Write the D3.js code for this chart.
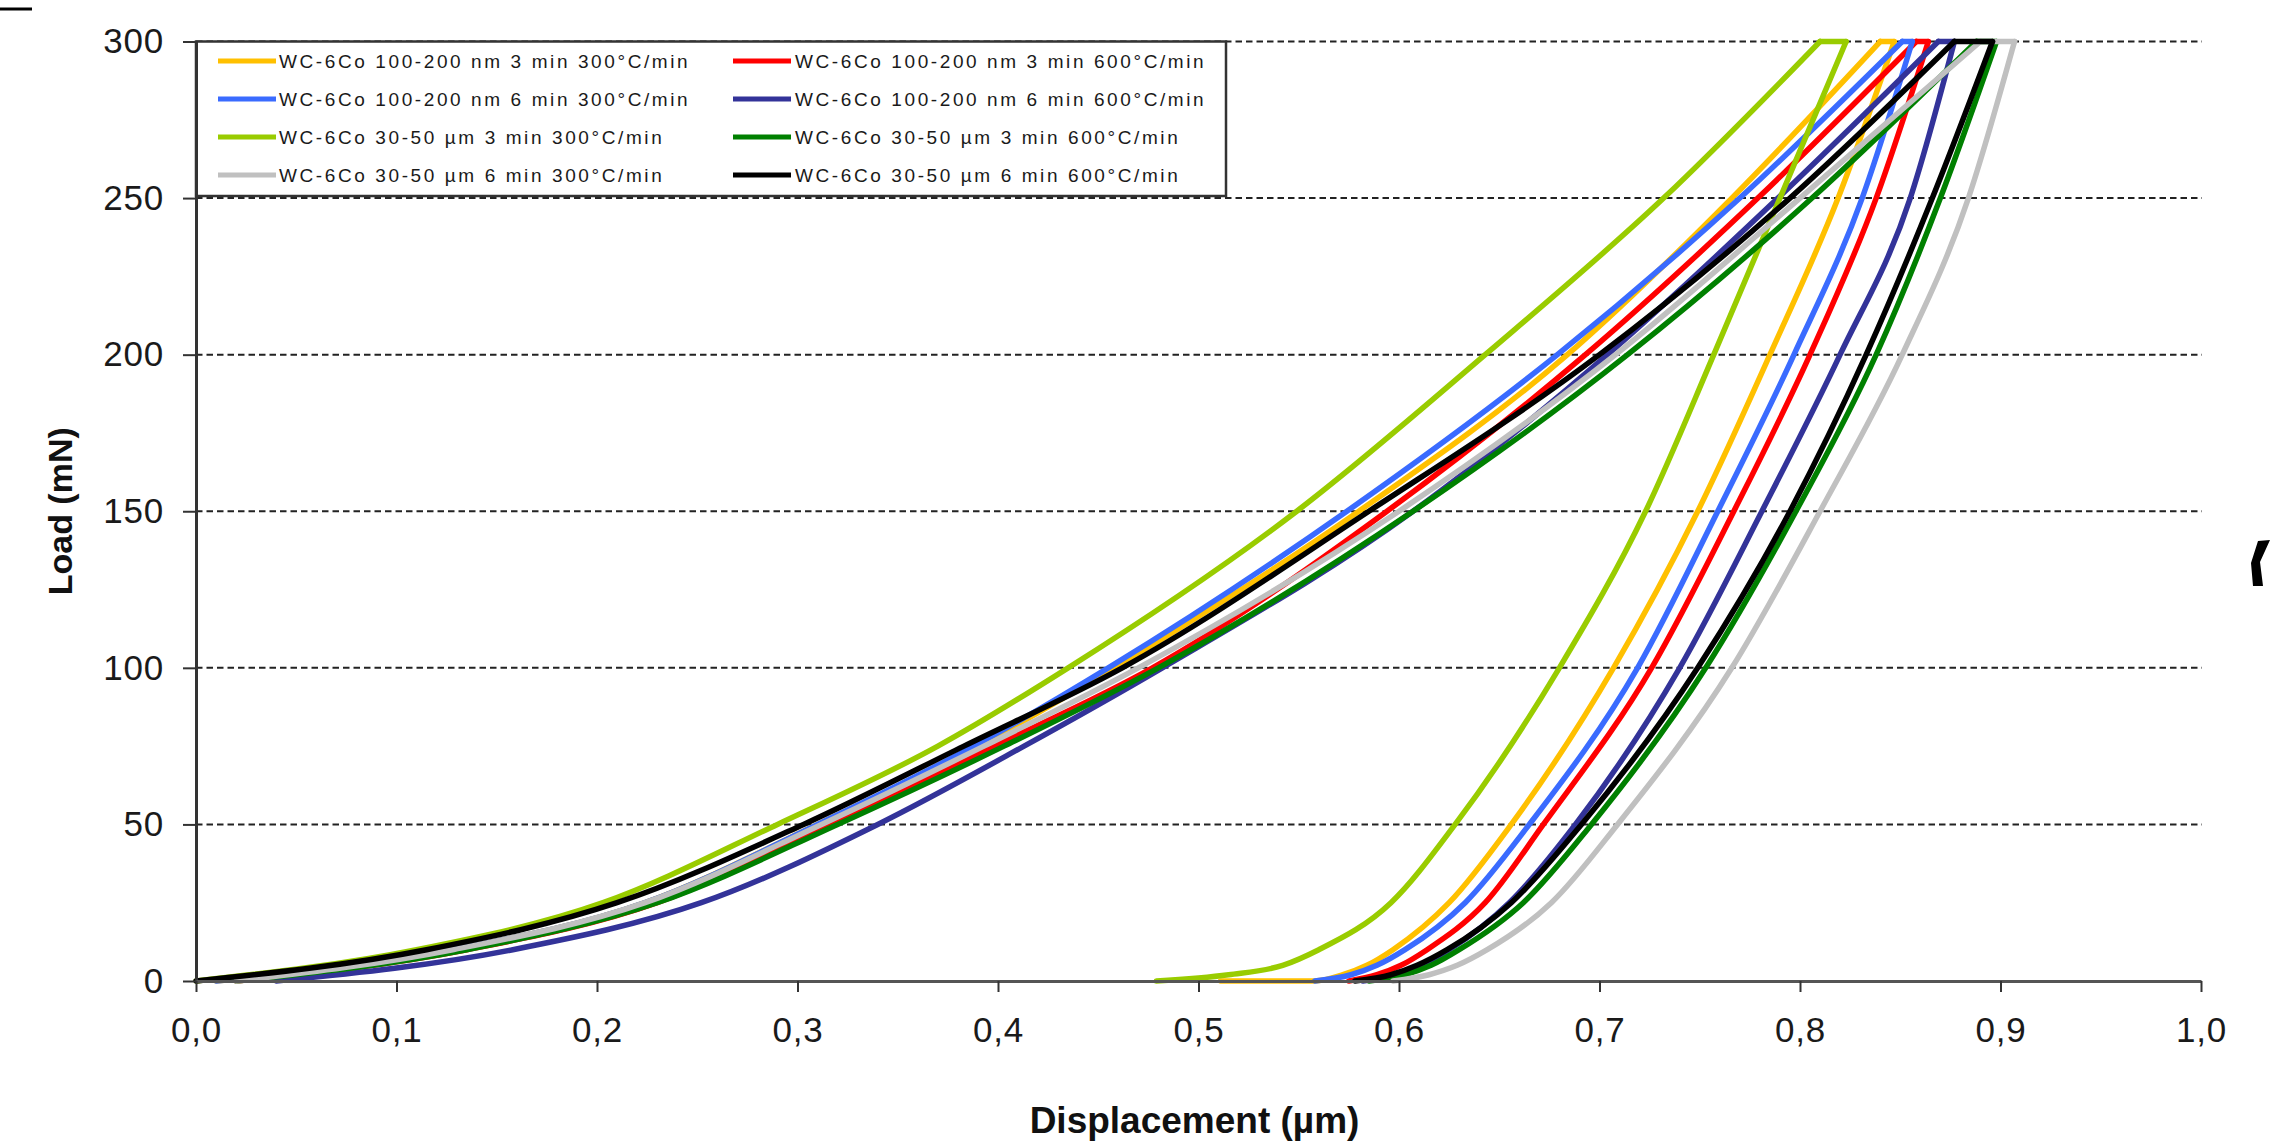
<!DOCTYPE html>
<html><head><meta charset="utf-8">
<script src="https://cdn.jsdelivr.net/npm/d3@7"></script>
<style>
html,body{margin:0;padding:0;background:#fff;}
svg{display:block;}
text{font-family:"Liberation Sans", Arial, sans-serif;}
</style></head><body>
<svg id="chart" width="2282" height="1142"></svg>
<script>
// ---------- data ----------
const seriesNames = [
  "WC-6Co 100-200 nm 3 min 300°C/min",
  "WC-6Co 100-200 nm 3 min 600°C/min",
  "WC-6Co 100-200 nm 6 min 300°C/min",
  "WC-6Co 100-200 nm 6 min 600°C/min",
  "WC-6Co 30-50 µm 3 min 300°C/min",
  "WC-6Co 30-50 µm 3 min 600°C/min",
  "WC-6Co 30-50 µm 6 min 300°C/min",
  "WC-6Co 30-50 µm 6 min 600°C/min"
];
const seriesColors = ["#FFC000","#FF0000","#3A6BFF","#333399","#99CC00","#008000","#C0C0C0","#000000"];

// load levels (mN) at which displacement (µm) is read
const loadLevels   = [0, 10, 25, 50, 75, 100, 150, 200, 250, 300];
const unloadLevels = [300, 250, 200, 150, 100, 50, 25, 10, 5, 2, 0];

// loading branches (displacement at loadLevels)
const yellowLoading = [0.010, 0.128, 0.224, 0.310, 0.390, 0.458, 0.580, 0.684, 0.766, 0.840];
const redLoading    = [0.020, 0.135, 0.230, 0.316, 0.398, 0.477, 0.594, 0.693, 0.779, 0.858];
const blueLoading   = [0.010, 0.128, 0.224, 0.310, 0.388, 0.455, 0.574, 0.679, 0.770, 0.851];
const navyLoading   = [0.040, 0.158, 0.252, 0.340, 0.413, 0.482, 0.607, 0.704, 0.789, 0.869];
const limeLoading   = [0.000, 0.110, 0.203, 0.290, 0.370, 0.435, 0.549, 0.643, 0.732, 0.810];
const greenLoading  = [0.020, 0.135, 0.230, 0.320, 0.403, 0.480, 0.607, 0.714, 0.806, 0.888];
const grayLoading   = [0.020, 0.128, 0.224, 0.312, 0.393, 0.470, 0.600, 0.708, 0.800, 0.890];
const blackLoading  = [0.000, 0.115, 0.210, 0.303, 0.383, 0.462, 0.585, 0.700, 0.795, 0.877];

// unloading branches (displacement at unloadLevels)
const yellowUnloading = [0.847, 0.819, 0.785, 0.749, 0.707, 0.656, 0.625, 0.597, 0.584, 0.572, 0.558];
const redUnloading    = [0.864, 0.838, 0.805, 0.767, 0.726, 0.672, 0.643, 0.614, 0.601, 0.589, 0.575];
const blueUnloading   = [0.856, 0.831, 0.797, 0.759, 0.719, 0.665, 0.633, 0.603, 0.589, 0.576, 0.558];
const navyUnloading   = [0.877, 0.855, 0.820, 0.781, 0.740, 0.688, 0.655, 0.625, 0.611, 0.598, 0.582];
const limeUnloading   = [0.823, 0.790, 0.757, 0.723, 0.680, 0.628, 0.596, 0.560, 0.542, 0.515, 0.479];
const greenUnloading  = [0.898, 0.870, 0.838, 0.798, 0.753, 0.696, 0.662, 0.630, 0.616, 0.603, 0.585];
const grayUnloading   = [0.907, 0.884, 0.851, 0.810, 0.766, 0.709, 0.676, 0.644, 0.629, 0.615, 0.597];
const blackUnloading  = [0.896, 0.866, 0.833, 0.795, 0.749, 0.691, 0.656, 0.624, 0.609, 0.596, 0.578];

// zero-load tail end (displacement), null when none
const residualFlat = [0.511, null, null, null, null, null, null, null];

const xTickValues = [0, 0.1, 0.2, 0.3, 0.4, 0.5, 0.6, 0.7, 0.8, 0.9, 1.0];
const xTickLabels = ["0,0","0,1","0,2","0,3","0,4","0,5","0,6","0,7","0,8","0,9","1,0"];
const yTickValues = [0, 50, 100, 150, 200, 250, 300];
const yTickLabels = ["0","50","100","150","200","250","300"];

const loadings   = [yellowLoading, redLoading, blueLoading, navyLoading, limeLoading, greenLoading, grayLoading, blackLoading];
const unloadings = [yellowUnloading, redUnloading, blueUnloading, navyUnloading, limeUnloading, greenUnloading, grayUnloading, blackUnloading];

// ---------- layout ----------
const svg = d3.select("#chart");
const x = d3.scaleLinear().domain([0, 1]).range([196, 2201]);
const y = d3.scaleLinear().domain([0, 300]).range([981, 41.5]);

// gridlines
svg.append("g").selectAll("line").data(yTickValues.filter(v => v > 0)).join("line")
  .attr("x1", x(0)).attr("x2", x(1) + 1)
  .attr("y1", d => y(d)).attr("y2", d => y(d))
  .attr("stroke", "#222").attr("stroke-width", 2).attr("stroke-dasharray", "6.5 4");

// curves
const lineGen = d3.line().x(p => x(p[0])).y(p => y(p[1])).curve(d3.curveMonotoneX);
const straight = d3.line().x(p => x(p[0])).y(p => y(p[1]));
const curvesG = svg.append("g");
seriesNames.forEach((name, i) => {
  const g = curvesG.append("g");
  const load = loadLevels.map((L, j) => [loadings[i][j], L]);
  const unload = unloadLevels.map((L, j) => [unloadings[i][j], L]);
  if (residualFlat[i] !== null) unload.push([residualFlat[i], 0]);
  const style = sel => sel.attr("fill", "none").attr("stroke", seriesColors[i])
    .attr("stroke-width", 5.5).attr("stroke-linecap", "round").attr("stroke-linejoin", "round");
  g.append("path").attr("d", lineGen(load)).call(style);
  g.append("path").attr("d", straight([load[load.length - 1], unload[0]])).call(style);
  g.append("path").attr("d", lineGen(unload)).call(style);
});

// legend
const legend = svg.append("g");
legend.append("rect").attr("x", 196).attr("y", y(300)).attr("width", 1030).attr("height", 196 - y(300))
  .attr("fill", "#fff").attr("stroke", "#333").attr("stroke-width", 2.5);
const colSwatch = [218, 733], colText = [279, 795];
seriesNames.forEach((name, i) => {
  const c = i % 2, r = Math.floor(i / 2);
  const cy = 61.5 + r * 38;
  legend.append("line").attr("x1", colSwatch[c]).attr("x2", colSwatch[c] + 58)
    .attr("y1", cy - 0.5).attr("y2", cy - 0.5).attr("stroke", seriesColors[i]).attr("stroke-width", 5);
  legend.append("text").attr("x", colText[c]).attr("y", cy + 6.8)
    .attr("font-size", 19).attr("letter-spacing", 2.6).attr("fill", "#1a1a1a").text(name);
});

// axes
const yAxis = d3.axisLeft(y).tickValues(yTickValues).tickFormat((d, i) => yTickLabels[i])
  .tickSize(13).tickSizeOuter(0).tickPadding(19);
const gy = svg.append("g").attr("transform", `translate(${x(0)},0)`).call(yAxis);
gy.select(".domain").attr("stroke", "#333").attr("stroke-width", 3);
gy.selectAll(".tick line").attr("stroke", "#333").attr("stroke-width", 2);
gy.selectAll(".tick text").attr("font-size", 35).attr("font-family", "Liberation Sans, Arial, sans-serif")
  .attr("fill", "#1a1a1a").attr("letter-spacing", 0.8);

const xAxis = d3.axisBottom(x).tickValues(xTickValues).tickFormat((d, i) => xTickLabels[i])
  .tickSize(11).tickSizeOuter(0).tickPadding(25);
const gx = svg.append("g").attr("transform", `translate(0,${y(0)})`).call(xAxis);
gx.select(".domain").attr("stroke", "#555").attr("stroke-width", 3);
gx.selectAll(".tick line").attr("stroke", "#333").attr("stroke-width", 2);
gx.selectAll(".tick text").attr("font-size", 35).attr("font-family", "Liberation Sans, Arial, sans-serif")
  .attr("fill", "#1a1a1a").attr("letter-spacing", 0.8);

// axis titles
svg.append("text").attr("transform", `translate(72,${(y(0) + y(300)) / 2}) rotate(-90)`)
  .attr("text-anchor", "middle").attr("font-size", 34).attr("font-weight", "bold").attr("fill", "#111")
  .text("Load (mN)");
svg.append("text").attr("x", (x(0) + x(1)) / 2 - 4).attr("y", 1133)
  .attr("text-anchor", "middle").attr("font-size", 37).attr("font-weight", "bold").attr("fill", "#111")
  .text("Displacement (µm)");

// stray marks at image edges
svg.append("line").attr("x1", 0).attr("x2", 32).attr("y1", 9).attr("y2", 9).attr("stroke", "#000").attr("stroke-width", 3);
svg.append("path").attr("d", "M2258,541 L2270,540 L2260,562 L2263,586 L2253,586 L2251,563 Z").attr("fill", "#000");
</script>
</body></html>
